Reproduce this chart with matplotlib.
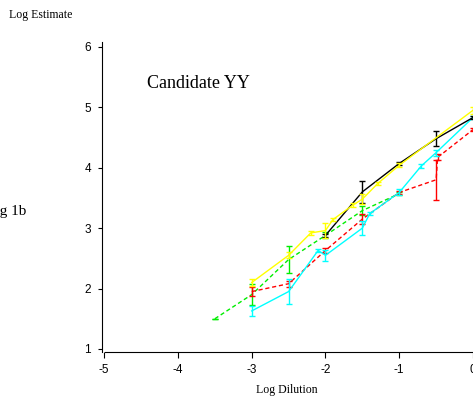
import matplotlib
matplotlib.use("Agg")
import matplotlib.pyplot as plt

# Data
green_x = [-3.5, -3, -2.5, -2, -1.5, -1]
green_y = [1.5, 1.9, 2.48, 2.88, 3.29, 3.57]
green_e = [0.0, 0.17, 0.23, 0.05, 0.08, 0.03]

cyan_x = [-3, -2.5, -2.1, -2, -1.5, -1.4, -1, -0.7, -0.5, 0]
cyan_y = [1.63, 1.95, 2.63, 2.55, 3.0, 3.24, 3.59, 4.03, 4.25, 4.83]
cyan_e = [0.08, 0.2, 0.03, 0.09, 0.11, 0.03, 0.05, 0.03, 0.05, 0.03]

red_x = [-3, -2.5, -2, -1.5, -1, -0.5, -0.48, 0]
red_y = [1.95, 2.08, 2.63, 3.15, 3.59, 3.8, 4.17, 4.63]
red_e = [0.08, 0.05, 0.04, 0.08, 0.03, 0.33, 0.05, 0.03]

black_x = [-2, -1.5, -1, -0.5, 0]
black_y = [2.88, 3.6, 4.07, 4.48, 4.83]
black_e = [0.03, 0.18, 0.03, 0.12, 0.03]

yellow_x = [-3, -2.5, -2.2, -2, -1.9, -1.63, -1.5, -1.29, -1, 0]
yellow_y = [2.1, 2.55, 2.92, 2.96, 3.14, 3.38, 3.48, 3.74, 4.04, 4.95]
yellow_e = [0.05, 0.05, 0.03, 0.13, 0.03, 0.03, 0.08, 0.03, 0.03, 0.06]

xticks = [-5, -4, -3, -2, -1, 0]
yticks = [1, 2, 3, 4, 5, 6]

fig = plt.figure(figsize=(4.73, 4.0), dpi=100)
ax = fig.add_axes([102/473, 48/400, 1 - 102/473, 310/400])

serif = ['Liberation Serif', 'DejaVu Serif']
sans = ['Liberation Sans', 'DejaVu Sans']

common = dict(lw=1.0, elinewidth=1.0, capsize=2.5, capthick=1.0)
ax.errorbar(green_x, green_y, yerr=green_e, color='#00ee00', ls='--', dashes=(3, 2),
            zorder=2, **common)
ax.errorbar(red_x, red_y, yerr=red_e, color='#ff0000', ls='--', dashes=(3, 2),
            zorder=3, **common)
ax.errorbar(cyan_x, cyan_y, yerr=cyan_e, color='#00ffff', ls='-', zorder=4, **common)
ax.errorbar(black_x, black_y, yerr=black_e, color='#000000', ls='-', zorder=5, **common)
ax.errorbar(yellow_x, yellow_y, yerr=yellow_e, color='#ffff00', ls='-', zorder=6, **common)

ax.set_xlim(-5.03, 0.0)
ax.set_ylim(0.95, 6.08)
ax.set_xticks(xticks)
ax.set_yticks(yticks)
ax.set_xticklabels([str(v) for v in xticks], family=sans, fontsize=8.5)
ax.set_yticklabels([str(v) for v in yticks], family=sans, fontsize=8.5)
ax.tick_params(axis='x', direction='out', length=4, width=0.8, pad=4.5)
ax.tick_params(axis='y', direction='out', length=3, width=0.8, pad=5)
for s in ['top', 'right']:
    ax.spines[s].set_visible(False)
ax.spines['left'].set_linewidth(0.8)
ax.spines['bottom'].set_linewidth(0.8)
ax.spines['bottom'].set_bounds(-4.99, 0.0)
ax.patch.set_visible(False)

fig.text(147/473, 1 - 84/400, 'Candidate YY', family=serif, fontsize=13, va='center', ha='left')
fig.text(9/473, 1 - 15/400, 'Log Estimate', family=serif, fontsize=8.5, va='center', ha='left')
fig.text(287/473, 1 - 390/400, 'Log Dilution', family=serif, fontsize=8.5, va='center', ha='center')
fig.text(26/473, 1 - 212/400, 'Fig 1b', family=serif, fontsize=11, va='center', ha='right')

fig.savefig('out.png', dpi=100)
